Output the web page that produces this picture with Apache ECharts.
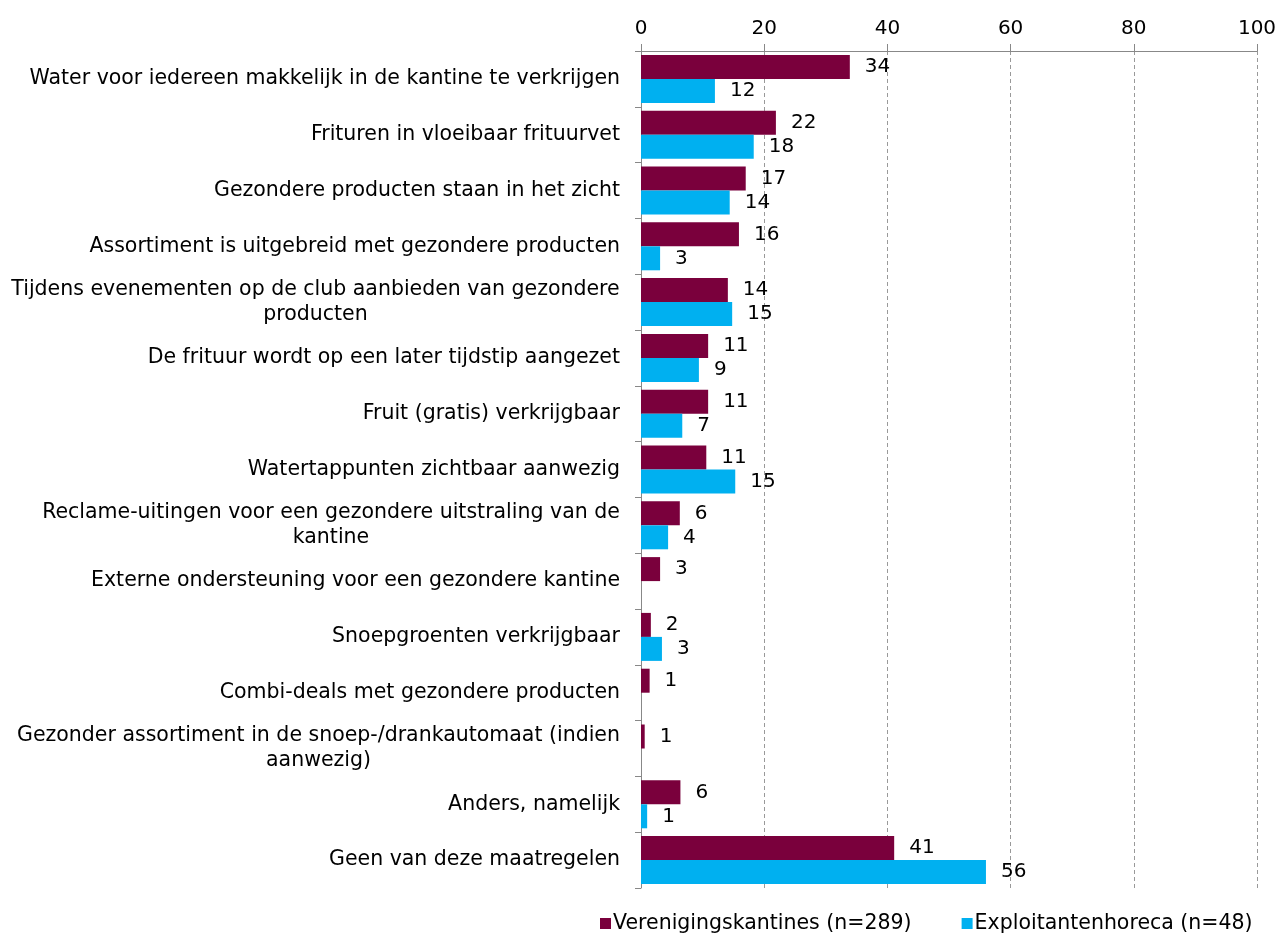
<!DOCTYPE html>
<html>
<head>
<meta charset="utf-8">
<script src="https://cdn.jsdelivr.net/npm/echarts@6/dist/echarts.min.js"></script>
<style>html,body{margin:0;padding:0;background:#fff}#c{width:1281px;height:949px}</style>
</head>
<body>
<div id="c"></div>
<script>
const categories = [
  "Water voor iedereen makkelijk in de kantine te verkrijgen",
  "Frituren in vloeibaar frituurvet",
  "Gezondere producten staan in het zicht",
  "Assortiment is uitgebreid met gezondere producten",
  "Tijdens evenementen op de club aanbieden van gezondere\nproducten",
  "De frituur wordt op een later tijdstip aangezet",
  "Fruit (gratis) verkrijgbaar",
  "Watertappunten zichtbaar aanwezig",
  "Reclame-uitingen voor een gezondere uitstraling van de\nkantine",
  "Externe ondersteuning voor een gezondere kantine",
  "Snoepgroenten verkrijgbaar",
  "Combi-deals met gezondere producten",
  "Gezonder assortiment in de snoep-/drankautomaat (indien\naanwezig)",
  "Anders, namelijk",
  "Geen van deze maatregelen"
];
const verenigingskantines = [33.9, 21.9, 17.0, 15.9, 14.1, 10.9, 10.9, 10.6, 6.3, 3.1, 1.6, 1.4, 0.6, 6.4, 41.1];
const exploitantenhoreca  = [12.0, 18.3, 14.4, 3.1, 14.8, 9.4, 6.7, 15.3, 4.4, 0, 3.4, 0, 0, 1.0, 56.0];
const xTicks = [0, 20, 40, 60, 80, 100];
const seriesNames = ["Verenigingskantines (n=289)", "Exploitantenhoreca (n=48)"];

const FONT = '"DejaVu Sans", sans-serif';
const FS = 20.5;
const NFS = 20;
const ctx = document.createElement('canvas').getContext('2d');
ctx.font = FS + 'px "DejaVu Sans"';
const rich = {};
categories.forEach((c, i) => {
  if (c.indexOf('\n') >= 0) {
    const w = Math.max(...c.split('\n').map(l => ctx.measureText(l).width));
    rich['c' + i] = {width: Math.ceil(w), align: 'center', fontSize: FS, fontFamily: FONT, color: '#000', lineHeight: 25};
  }
});

const chart = echarts.init(document.getElementById('c'));
const labelOpt = {
  show: true, position: 'right', distance: 15,
  fontSize: NFS, fontFamily: FONT, color: '#000',
  formatter: p => p.value > 0 ? Math.round(p.value) : ''
};
chart.setOption({
  animation: false,
  textStyle: {fontFamily: FONT},
  grid: {left: 641, right: 24, top: 51, bottom: 61},
  legend: {
    data: seriesNames, left: 595, bottom: 10, icon: 'rect', itemWidth: 11, itemHeight: 11, itemGap: 50,
    textStyle: {fontSize: FS, fontFamily: FONT, color: '#000', padding: [0, 0, 0, -3]}
  },
  xAxis: {
    type: 'value', position: 'top', min: 0, max: 100, interval: 20,
    axisLine: {show: true, lineStyle: {color: '#888'}},
    axisTick: {show: true, length: 7, lineStyle: {color: '#888'}},
    axisLabel: {fontSize: NFS, fontFamily: FONT, color: '#000', margin: 12, formatter: v => xTicks.includes(v) ? String(v) : ''},
    splitLine: {show: true, lineStyle: {color: '#999', type: [4, 3]}}
  },
  yAxis: {
    type: 'category', inverse: true, data: categories,
    axisLine: {show: true, lineStyle: {color: '#888'}},
    axisTick: {show: true, length: 6, lineStyle: {color: '#888'}},
    axisLabel: {
      fontSize: FS, fontFamily: FONT, color: '#000', margin: 21, lineHeight: 25,
      formatter: (v, i) => v.indexOf('\n') >= 0 ? v.split('\n').map(l => '{c' + i + '|' + l + '}').join('\n') : v,
      rich: rich
    }
  },
  series: [
    {name: seriesNames[0], type: 'bar', data: verenigingskantines, barGap: '0%', barCategoryGap: '14%',
     itemStyle: {color: '#7A003C'}, label: labelOpt},
    {name: seriesNames[1], type: 'bar', data: exploitantenhoreca, barGap: '0%', barCategoryGap: '14%',
     itemStyle: {color: '#00B0F0'}, label: labelOpt}
  ]
});
</script>
</body>
</html>
